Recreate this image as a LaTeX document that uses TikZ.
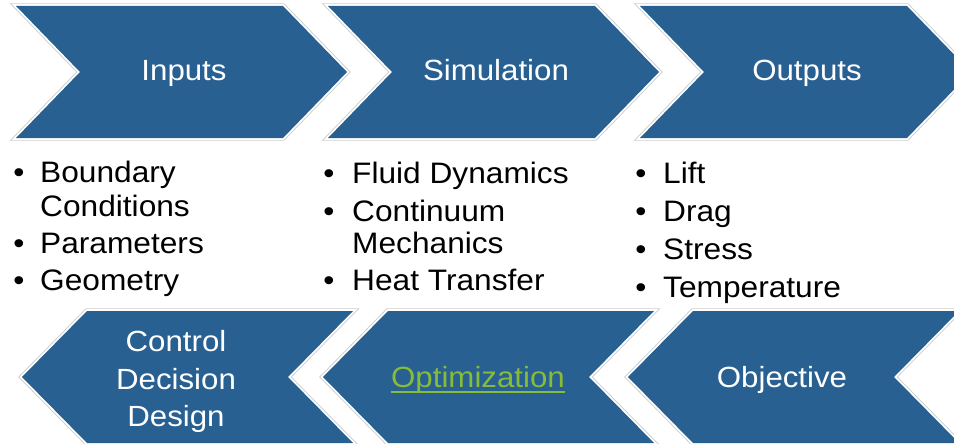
\documentclass[tikz,border=0pt]{standalone}
\usepackage{fontspec}
\setmainfont{Liberation Sans}[FakeStretch=1.07]
\definecolor{chevblue}{RGB}{40,96,146}
\definecolor{optgreen}{RGB}{134,188,55}
\tikzset{
  chev/.style={draw=black!20, line width=0.9pt, double=white, double distance=3.6pt,
    line join=miter, postaction={draw=none, fill=chevblue}},
  head/.style={text=white, font=\fontsize{29.2}{34}\selectfont, inner sep=0pt, anchor=base},
  body/.style={text=black, font=\fontsize{29.6}{34}\selectfont, inner sep=0pt, anchor=base west},
  bul/.style={body, anchor=base},
}
\begin{document}
\begin{tikzpicture}[x=1pt,y=-1pt]
\useasboundingbox (0,0) rectangle (954,444);

% upper row: chevrons pointing right
\foreach \L in {16,328,640}
  \path[chev] (\L,6) -- ++(267,0) -- ++(64,66) -- ++(-64,66) -- ++(-267,0) -- ++(64,-66) -- cycle;

% lower row: chevrons pointing left
\foreach \T in {22,323,628}
  \path[chev] (\T,377) -- ++(65,-66) -- ++(266,0) -- ++(-65,66) -- ++(65,66) -- ++(-266,0) -- cycle;

% headings of the upper row
\node[head] (inputs) at (184,81) {Inputs};
\node[head] (simulation) at (496,81) {Simulation};
\node[head] (outputs) at (807,81) {Outputs};

% headings of the lower row
\node[head] (control) at (176,351) {Control};
\node[head] (decision) at (176,389) {Decision};
\node[head] (design) at (176,426) {Design};
\node[head, text=optgreen] (optimization) at (478,387) {Optimization};
\draw[optgreen, line width=1.3pt] ([yshift=-5pt]optimization.base west) -- ([yshift=-5pt]optimization.base east);
\node[head] (objective) at (782,387) {Objective};

% inputs list
\node[bul] (bi1) at (19,182) {•};
\node[body] (i1) at (40,182) {Boundary};
\node[body] (i1b) at (40,216) {Conditions};
\node[bul] (bi2) at (19,253) {•};
\node[body] (i2) at (40,253) {Parameters};
\node[bul] (bi3) at (19,290) {•};
\node[body] (i3) at (40,290) {Geometry};

% simulation list
\node[bul] (bs1) at (329,183) {•};
\node[body] (s1) at (352,183) {Fluid Dynamics};
\node[bul] (bs2) at (329,221) {•};
\node[body] (s2) at (352,221) {Continuum};
\node[body] (s2b) at (352,253) {Mechanics};
\node[bul] (bs3) at (329,290) {•};
\node[body] (s3) at (352,290) {Heat Transfer};

% outputs list
\node[bul] (bo1) at (641,183) {•};
\node[body] (o1) at (663,183) {Lift};
\node[bul] (bo2) at (641,221) {•};
\node[body] (o2) at (663,221) {Drag};
\node[bul] (bo3) at (641,259) {•};
\node[body] (o3) at (663,259) {Stress};
\node[bul] (bo4) at (641,297) {•};
\node[body] (o4) at (663,297) {Temperature};
\end{tikzpicture}
\end{document}
